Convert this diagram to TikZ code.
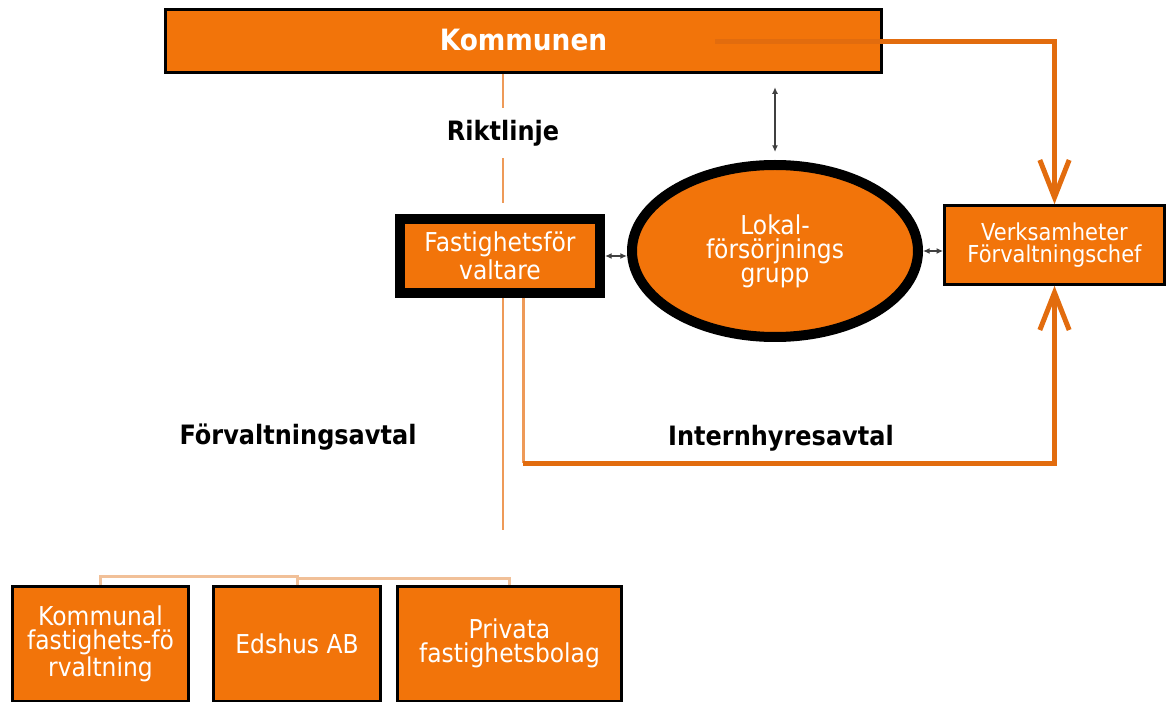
\documentclass[tikz,border=0pt]{standalone}
\usepackage{fontspec}
\setmainfont{DejaVu Sans}[FakeStretch=0.9]
\usetikzlibrary{arrows.meta,shapes.geometric}
\definecolor{korange}{RGB}{242,116,10}
\definecolor{kdark}{RGB}{226,108,14}
\definecolor{kline}{RGB}{238,154,88}
\definecolor{klight}{RGB}{241,192,152}

\begin{document}
\begin{tikzpicture}[x=0.75pt,y=-0.75pt,
        box/.style={draw=black,line width=2pt,fill=korange,text=white,align=center,inner sep=0pt},
        lbl/.style={font=\fontsize{20}{24}\selectfont\bfseries},
        bigarrow/.style={draw=kdark,line width=3.75pt,-{Straight Barb[length=28pt,width=22pt]}},
        twoway/.style={draw=black!75,line width=1.5pt,{Latex[length=5pt,width=4.5pt]}-{Latex[length=5pt,width=4.5pt]}}]
        \useasboundingbox (0,0) rectangle (1168,702);
        % node
        \node[box,minimum width=537pt,minimum height=47.25pt,font=\fontsize{22}{26}\selectfont\bfseries] (ko) at (523.5,41) {\raisebox{2.5pt}{Kommunen}};
        \node[box,line width=7.5pt,minimum width=150pt,minimum height=55.5pt,font=\fontsize{19.5}{21}\selectfont] (fv) at (500,256) {Fastighetsför\\valtare};
        \node[box,ellipse,line width=7.5pt,minimum width=214.5pt,minimum height=129pt,font=\fontsize{19.5}{18}\selectfont] (lfg) at (775,251) {Lokal-\\försörjnings\\grupp};
        \node[box,minimum width=165pt,minimum height=59.25pt,font=\fontsize{17.5}{16.5}\selectfont] (vs) at (1054.5,245) {Verksamheter\\Förvaltningschef};
        \node[box,minimum width=132pt,minimum height=86pt,font=\fontsize{19.5}{18}\selectfont] (b1) at (100.5,643.75) {Kommunal\\fastighets-fö\\rvaltning};
        \node[box,minimum width=125.25pt,minimum height=86pt,font=\fontsize{19.5}{18}\selectfont] (b2) at (297,643.75) {Edshus AB};
        \node[box,minimum width=168pt,minimum height=86pt,font=\fontsize{19.5}{18}\selectfont] (b3) at (509.5,643.75) {Privata\\fastighetsbolag};
        % labels
        \node[lbl,inner ysep=9pt] (rl) at (503,133) {Riktlinje};
        \node[lbl] (fa) at (298,437) {Förvaltningsavtal};
        \node[lbl] (ih) at (781,438) {Internhyresavtal};
        % point
        \coordinate (kstart) at (715,42);
        \coordinate (ih1) at (523,463);
        \coordinate (fa1) at (503,530);
        % line
        \draw[kline,line width=1.5pt] (ko.south -| rl) -- (rl.north);
        \draw[kline,line width=1.5pt,shorten >=8pt] (rl.south) -- (fv.north -| rl);
        \draw[bigarrow] (kstart) -| (vs.north);
        \draw[twoway,shorten <=10pt,shorten >=6pt] (ko.south -| lfg.north) -- (lfg.north);
        \draw[twoway] (fv.east) -- (fv.east -| lfg.west);
        \draw[twoway] (lfg.east) -- (lfg.east -| vs.west);
        \draw[kline,line width=2.25pt] (fv.south -| ih1) -- (ih1);
        \draw[bigarrow] (ih1) -| (vs.south);
        \draw[kline,line width=1.5pt] (fv.south -| fa1) -- (fa1);
        \draw[klight,line width=2.25pt] (b1.north) -- ++(0,-9) -| (b2.north);
        \draw[klight,line width=2.25pt] (b2.north) -- ++(0,-7) -| (b3.north);
\end{tikzpicture}
\end{document}
